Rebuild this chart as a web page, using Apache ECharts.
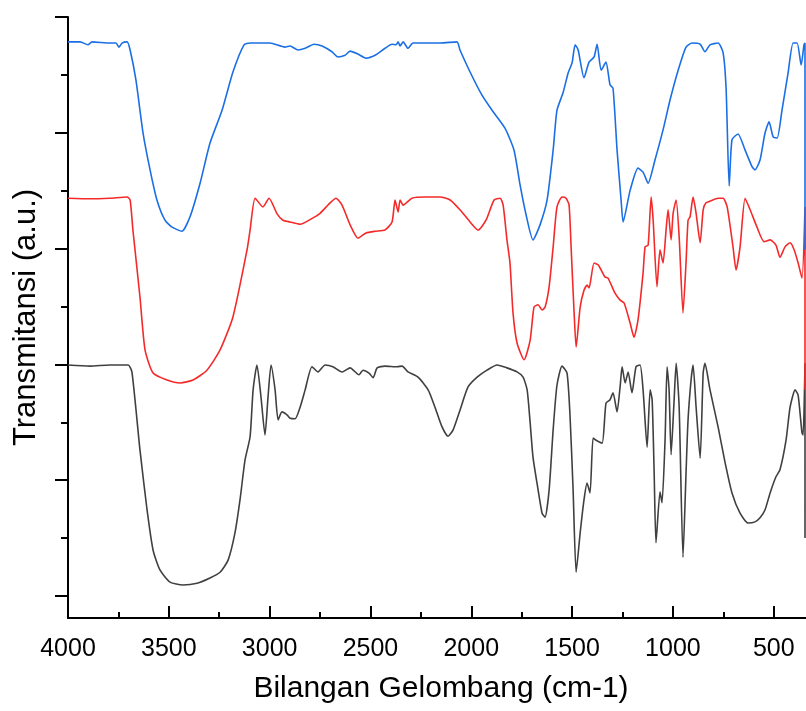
<!DOCTYPE html>
<html>
<head>
<meta charset="utf-8">
<script src="https://cdn.jsdelivr.net/npm/echarts@6/dist/echarts.min.js"></script>
<style>html,body{margin:0;padding:0;background:#fff;}#c{width:806px;height:711px;}</style>
</head>
<body>
<div id="c"></div>
<script>
// Wavenumbers (cm-1) and transmittance (a.u., offset) for each spectrum
const blueWn = [4000,3940,3901,3881,3792,3762,3747,3732,3707,3692,3663,3628,3593,3559,3519,3484,3435,3395,3345,3296,3236,3182,3127,3097,2998,2924,2899,2859,2824,2780,2740,2691,2661,2626,2601,2562,2522,2477,2428,2393,2373,2363,2353,2338,2314,2289,2229,2155,2071,2056,2006,1947,1897,1833,1788,1758,1728,1694,1659,1624,1594,1575,1545,1520,1500,1485,1470,1441,1416,1391,1376,1356,1332,1312,1297,1277,1257,1247,1212,1173,1148,1123,1089,1049,1014,974,935,905,865,841,816,776,751,736,721,707,677,642,607,593,568,543,523,503,483,459,429,404,384,364,350,345,345];
const blueT  = [95.7,95.7,95.2,95.7,95.5,95.5,94.8,95.5,95.7,94.3,89.1,80.0,73.6,68.4,64.9,63.7,63.0,65.5,71.3,78.2,83.9,90.5,95.2,95.5,95.5,94.8,95.0,94.3,94.6,95.3,95.0,94.0,93.1,93.4,94.1,93.6,92.9,93.4,94.6,95.3,95.2,95.7,95.0,95.7,94.6,95.5,95.5,95.5,95.7,94.3,90.5,86.5,83.9,80.8,77.0,71.0,65.8,61.5,64.1,68.4,77.0,83.9,86.9,90.3,92.1,95.2,94.3,89.5,92.2,93.1,95.3,90.8,92.2,88.3,87.7,77.0,68.4,64.6,70.1,73.9,73.2,71.3,75.3,80.5,85.7,90.8,94.8,95.5,95.3,94.0,95.2,95.5,93.8,87.4,70.8,78.8,79.8,77.0,74.1,73.6,75.3,80.0,81.9,79.3,79.1,83.9,90.3,95.5,95.5,91.7,95.2,95.5,59.8];

const redWn = [4000,3891,3792,3707,3692,3678,3643,3618,3578,3509,3444,3380,3311,3246,3182,3112,3097,3072,3033,3003,2963,2934,2899,2849,2785,2750,2700,2671,2641,2601,2562,2522,2477,2428,2393,2378,2363,2353,2338,2294,2229,2155,2105,2056,2006,1966,1927,1887,1857,1842,1823,1808,1793,1773,1738,1708,1689,1669,1649,1634,1614,1594,1575,1550,1530,1515,1505,1490,1480,1460,1441,1426,1416,1391,1371,1337,1322,1287,1262,1242,1212,1193,1173,1148,1138,1123,1108,1098,1079,1064,1049,1034,1024,1009,999,984,969,950,935,925,915,900,885,865,850,836,816,776,751,731,702,687,667,642,617,583,548,518,489,469,444,419,399,379,360,345,345];
const redT  = [68.7,68.6,68.7,68.9,68.4,63.2,51.6,42.5,38.5,37.3,36.8,37.3,39.0,42.5,48.2,59.8,63.2,68.7,67.2,68.7,66.0,64.9,64.6,64.2,65.3,66.1,67.9,68.7,67.5,64.1,61.8,62.7,63.0,63.2,64.6,68.4,66.3,68.4,67.5,68.7,68.9,68.9,68.4,66.7,64.6,63.2,64.9,68.4,68.7,67.5,61.5,57.5,48.9,43.7,40.8,44.2,49.9,50.3,49.4,49.9,53.4,60.3,67.2,68.9,68.7,67.5,60.3,48.9,43.0,49.9,52.8,53.7,53.2,57.5,57.2,55.1,54.9,52.3,51.1,50.6,47.1,44.7,47.7,55.8,60.3,60.6,68.9,64.9,53.4,59.8,57.5,63.2,66.7,61.5,66.1,68.4,62.0,48.9,57.5,64.9,65.5,68.9,66.1,61.0,66.7,67.9,68.2,68.7,68.7,67.2,60.3,56.3,60.3,68.7,66.7,63.7,61.2,61.5,60.6,58.5,60.3,61.0,59.8,57.5,54.9,67.2,35.6];

const grayWn = [4000,3891,3792,3702,3683,3643,3608,3578,3544,3494,3430,3360,3296,3246,3206,3172,3147,3122,3097,3082,3063,3043,3023,3008,2993,2973,2958,2939,2914,2899,2874,2849,2824,2790,2760,2725,2686,2641,2601,2557,2537,2507,2487,2467,2428,2368,2343,2314,2264,2214,2180,2145,2115,2090,2056,2016,1971,1922,1872,1823,1773,1743,1723,1708,1694,1674,1649,1634,1614,1594,1575,1550,1525,1510,1495,1480,1460,1441,1426,1411,1396,1381,1351,1332,1312,1297,1277,1262,1252,1237,1222,1203,1183,1163,1148,1128,1113,1103,1093,1084,1064,1054,1039,1029,1019,1009,994,984,969,950,935,925,910,900,885,865,850,841,816,776,741,707,667,627,593,568,543,518,489,469,439,419,394,379,360,354,345,345];
const grayT  = [39.9,39.7,39.9,39.9,38.7,25.2,14.9,7.9,4.5,2.4,1.9,2.2,3.1,4.1,6.2,10.9,16.6,23.5,27.5,35.6,39.9,34.4,27.8,34.4,39.9,35.6,30.4,31.8,31.3,30.7,30.6,32.6,35.6,39.6,38.7,39.9,39.6,38.7,39.4,38.2,39.0,38.5,37.7,39.4,39.7,39.6,39.7,38.7,37.8,35.6,32.6,29.2,27.6,28.7,32.1,36.1,37.8,39.0,39.9,39.4,38.7,37.8,35.6,29.9,24.0,19.5,14.3,13.6,18.3,28.7,36.4,39.7,38.5,30.9,18.3,4.1,10.9,16.6,19.5,17.8,27.3,26.9,26.4,33.3,33.9,35.1,31.8,36.1,39.6,36.8,38.7,35.1,39.6,39.9,35.6,25.7,35.6,33.9,21.2,9.2,18.0,16.1,26.9,39.6,35.6,24.4,33.9,40.2,32.6,6.7,21.2,30.4,37.3,39.9,32.6,23.8,38.5,40.2,35.6,29.2,23.0,17.8,14.3,12.6,12.8,13.5,14.9,17.8,20.6,21.8,26.9,32.6,35.6,34.7,28.2,27.8,40.2,10.0];

const xMajorTicks = [4000,3500,3000,2500,2000,1500,1000,500];
const xMinorTicks = [3750,3250,2750,2250,1750,1250,750];
const yMajorTicks = [0,20,40,60,80,100];
const yMinorTicks = [10,30,50,70,90];

const FONT = 'Liberation Sans, Arial, Helvetica, sans-serif';
function pairs(w,t){ return w.map((v,i)=>[v,t[i]]); }
const XMIN = 340, XMAX = 4000, YMIN = -3.8, YMAX = 100;
const blackLine = {color:'#000', width:2};
const G = {left:68, top:17, bottom:93, right:0, containLabel:false};

function hiddenX(gi, ticks, len){
  return {gridIndex:gi, type:'value', min:XMIN, max:XMAX, inverse:true, position:'bottom',
    axisLine:{show:false, onZero:false},
    axisTick:ticks ? {show:true, inside:true, length:len, customValues:ticks, lineStyle:blackLine} : {show:false},
    splitLine:{show:false}, axisLabel:{show:false}};
}
function hiddenY(gi, ticks, len){
  return {gridIndex:gi, type:'value', min:YMIN, max:YMAX, position:'left',
    axisLine:{show:false, onZero:false},
    axisTick:ticks ? {show:true, inside:false, length:len, customValues:ticks, lineStyle:blackLine} : {show:false},
    splitLine:{show:false}, axisLabel:{show:false}};
}

const chart = echarts.init(document.getElementById('c'), null, {renderer:'canvas'});
chart.setOption({
  animation:false,
  backgroundColor:'#fff',
  grid:[Object.assign({},G), Object.assign({},G), Object.assign({},G)],
  xAxis:[{
    gridIndex:0, type:'value', min:XMIN, max:XMAX, inverse:true,
    axisLine:{show:true, onZero:false, lineStyle:blackLine},
    axisTick:{show:false},
    splitLine:{show:false},
    axisLabel:{show:true, color:'#000', fontSize:25, fontFamily:FONT, margin:19, customValues:xMajorTicks,
      formatter:function(v){ return String(v); }}
  }, hiddenX(1, xMajorTicks, 12), hiddenX(2, xMinorTicks, 6)],
  yAxis:[{
    gridIndex:0, type:'value', min:YMIN, max:YMAX, position:'left',
    name:'Transmitansi (a.u.)', nameLocation:'middle', nameGap:26,
    nameTextStyle:{color:'#000', fontSize:31, fontFamily:FONT},
    axisLine:{show:true, onZero:false, lineStyle:blackLine},
    axisTick:{show:true, inside:false, length:13, customValues:yMajorTicks, lineStyle:blackLine},
    axisLabel:{show:false},
    splitLine:{show:false}
  }, hiddenY(1, yMinorTicks, 7), hiddenY(2, null, 0)],
  graphic:[{
    type:'text', x:441, y:689, silent:true,
    style:{text:'Bilangan Gelombang (cm-1)', fill:'#000', font:'30px '+FONT, align:'center', verticalAlign:'middle'}
  }],
  series:[
    {type:'line', name:'blue', xAxisIndex:0, yAxisIndex:0, data:pairs(blueWn,blueT), showSymbol:false, symbol:'none', smooth:0.2, lineStyle:{color:'#1b6fe4', width:1.6}, itemStyle:{color:'#1b6fe4'}, z:3},
    {type:'line', name:'red', xAxisIndex:0, yAxisIndex:0, data:pairs(redWn,redT), showSymbol:false, symbol:'none', smooth:0.2, lineStyle:{color:'#f42a2a', width:1.6}, itemStyle:{color:'#f42a2a'}, z:2},
    {type:'line', name:'gray', xAxisIndex:0, yAxisIndex:0, data:pairs(grayWn,grayT), showSymbol:false, symbol:'none', smooth:0.2, lineStyle:{color:'#404040', width:1.6}, itemStyle:{color:'#404040'}, z:1}
  ]
});
</script>
</body>
</html>
